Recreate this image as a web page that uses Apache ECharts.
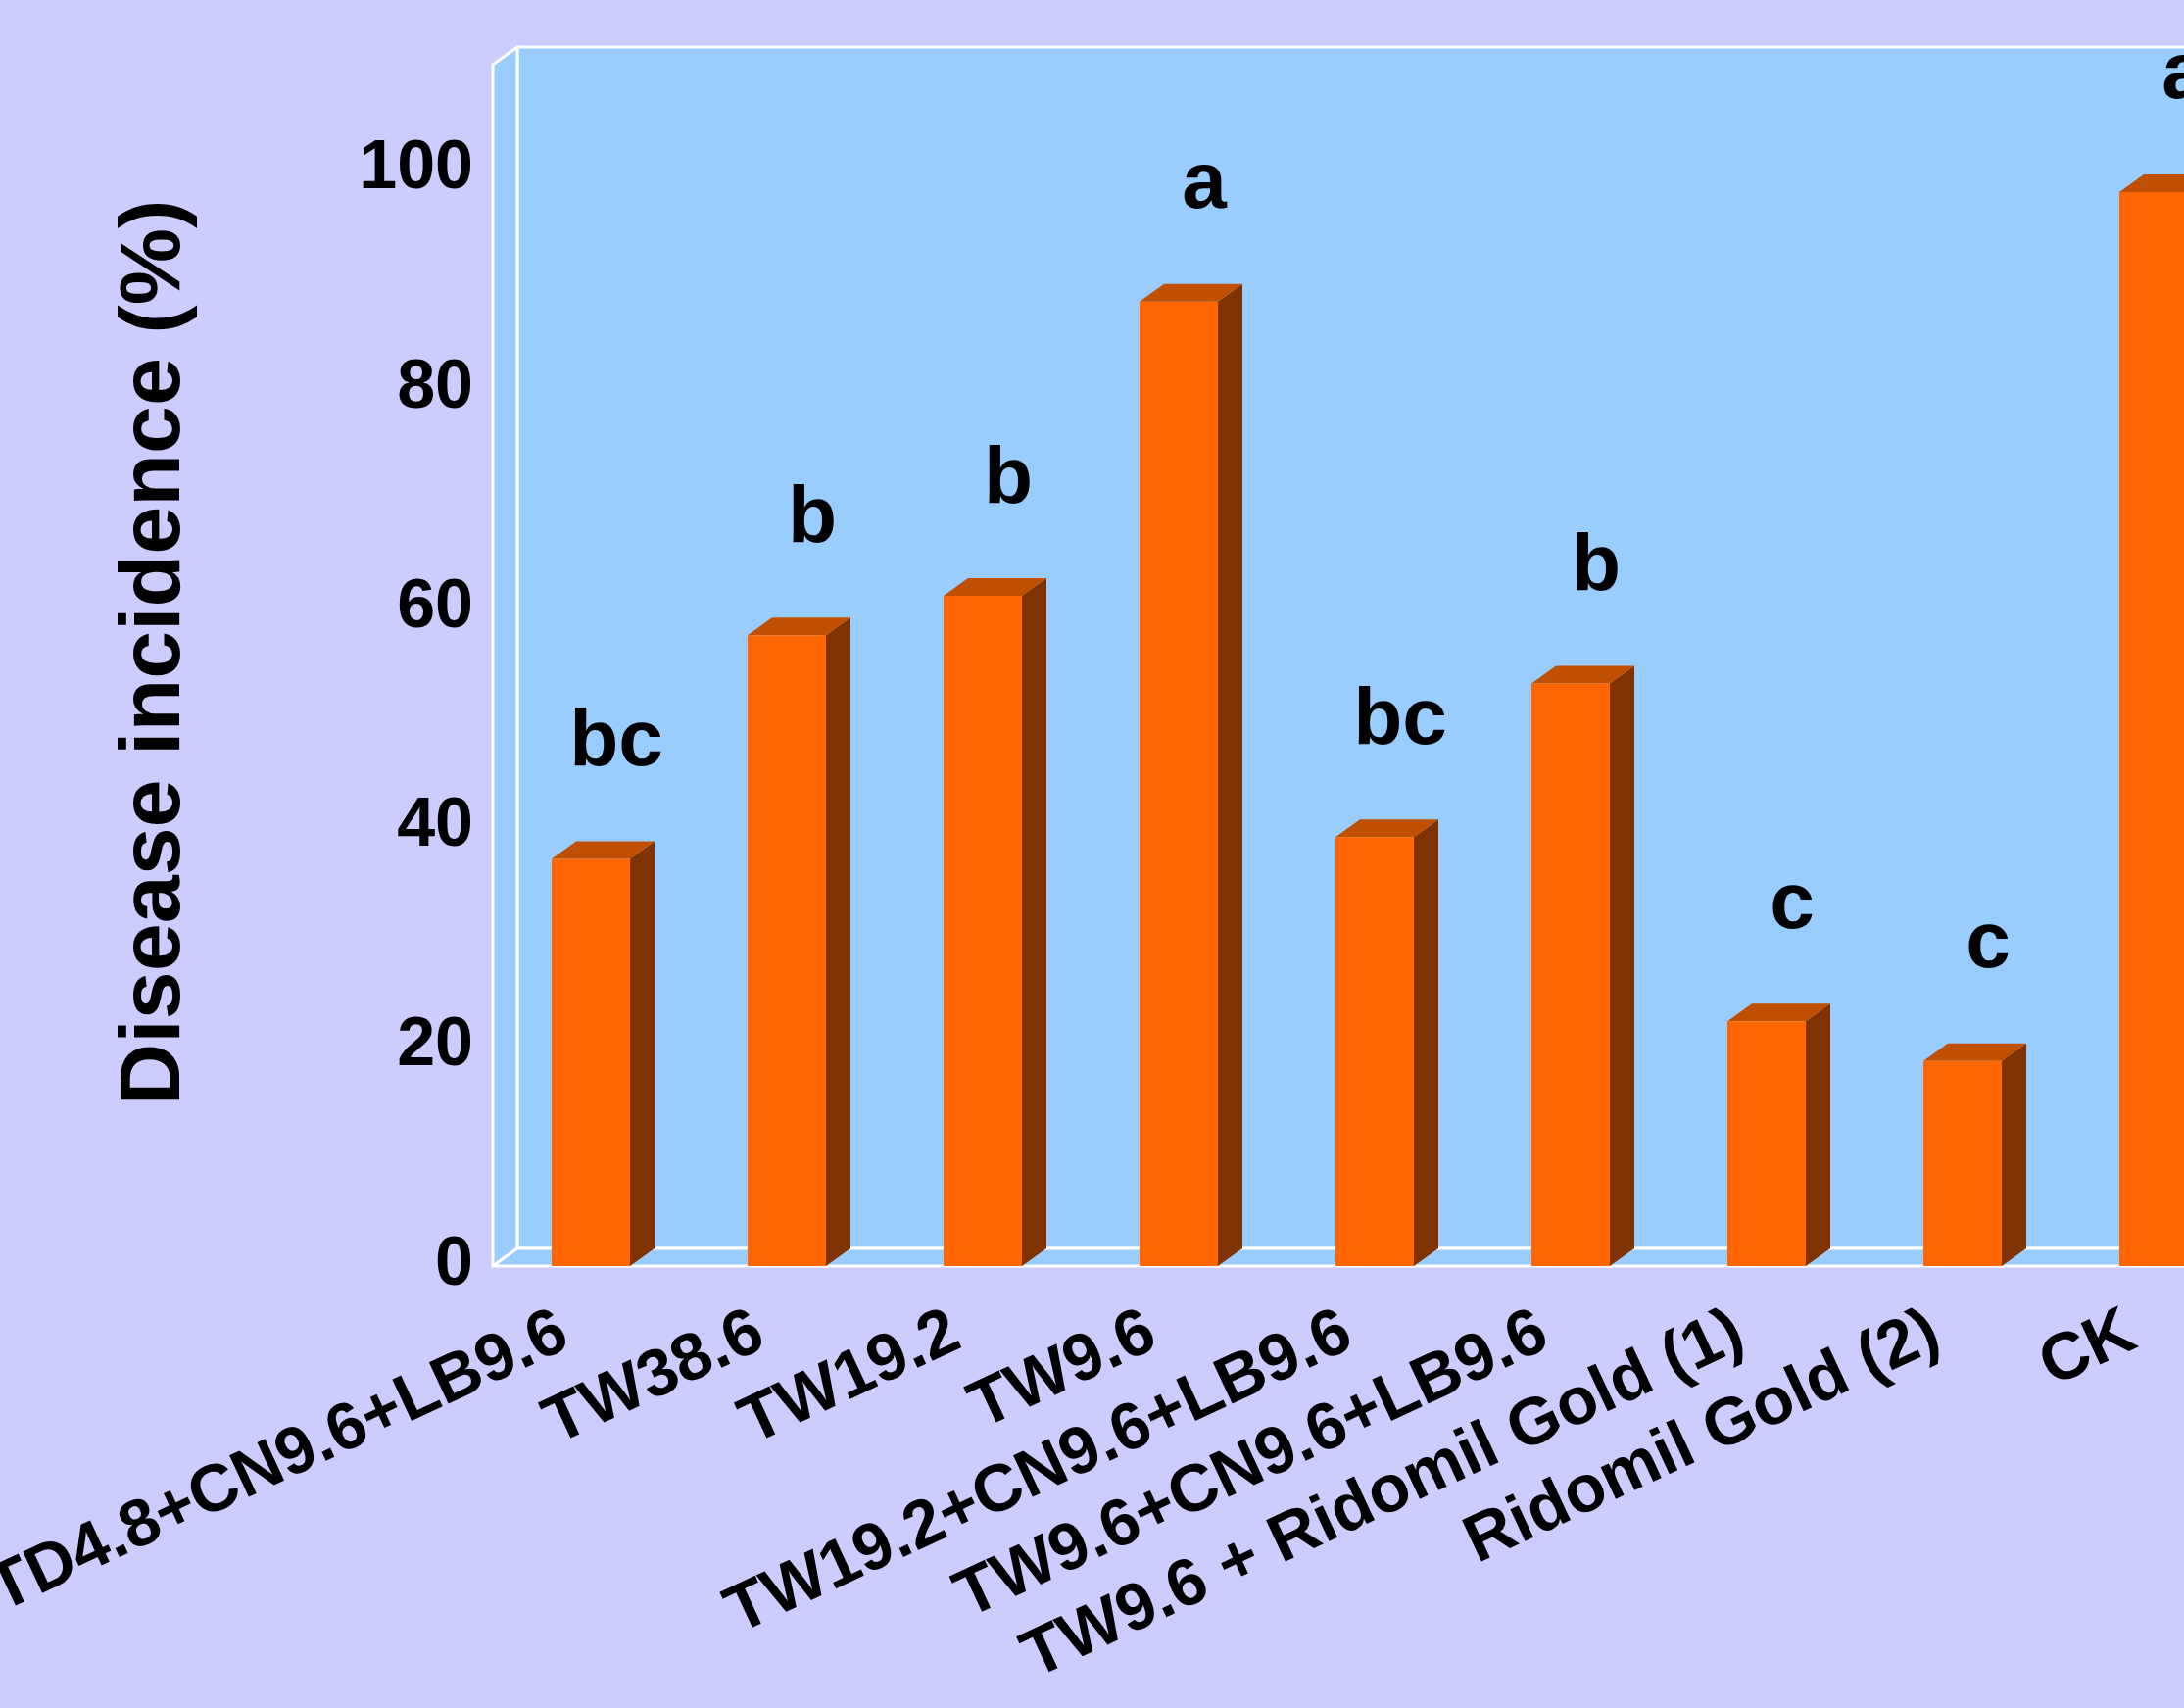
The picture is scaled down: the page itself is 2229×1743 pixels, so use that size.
<!DOCTYPE html>
<html>
<head>
<meta charset="utf-8">
<script src="https://cdn.jsdelivr.net/npm/echarts@6/dist/echarts.min.js"></script>
<style>
  html, body { margin: 0; padding: 0; background: #CCCCFF; }
  #chart { width: 2229px; height: 1743px; }
</style>
</head>
<body>
<div id="chart"></div>
<script>
// Treatments along the category axis
const categories = [
  'TD4.8+CN9.6+LB9.6',
  'TW38.6',
  'TW19.2',
  'TW9.6',
  'TW19.2+CN9.6+LB9.6',
  'TW9.6+CN9.6+LB9.6',
  'TW9.6 + Ridomil Gold (1)',
  'Ridomil Gold (2)',
  'CK'
];

// Disease incidence (%) per treatment
const incidence = [37.1, 57.5, 61.1, 87.9, 39.1, 53.1, 22.3, 18.7, 97.9];

// Significance groups printed above each column
const groupLetters = ['bc', 'b', 'b', 'a', 'bc', 'b', 'c', 'c', 'a'];

// Value axis range and tick step
const yMin = 0;
const yMax = 109.5;
const yStep = 20;
const yLabelLimit = 100;

// 3D depth offset for walls and columns
const DX = 25;
const DY = -18;

const FONT = '"Liberation Sans", Arial, sans-serif';
const WALL = '#99CCFF';
const EDGE = '#FFFFFF';

function renderFrame(params, api) {
  const cs = params.coordSys;
  const x = cs.x, y = cs.y, w = cs.width, h = cs.height;
  const edge = { stroke: EDGE, lineWidth: 3, lineJoin: 'round' };
  return {
    type: 'group',
    children: [
      { // back wall
        type: 'rect',
        shape: { x: x + DX, y: y + DY, width: w, height: h },
        style: Object.assign({ fill: WALL }, edge)
      },
      { // side wall
        type: 'polygon',
        shape: { points: [[x, y], [x + DX, y + DY], [x + DX, y + h + DY], [x, y + h]] },
        style: Object.assign({ fill: WALL }, edge)
      },
      { // floor
        type: 'polygon',
        shape: { points: [[x, y + h], [x + DX, y + h + DY], [x + w + DX, y + h + DY], [x + w, y + h]] },
        style: Object.assign({ fill: WALL }, edge)
      }
    ]
  };
}

function renderColumn(params, api) {
  const idx = api.value(0);
  const top = api.coord([idx, api.value(1)]);
  const base = api.coord([idx, 0]);
  const bw = api.size([1, 0])[0] * 0.4;
  const x0 = top[0] - bw / 2;
  const x1 = top[0] + bw / 2;
  const yT = top[1];
  const yB = base[1];
  return {
    type: 'group',
    children: [
      { // right side face
        type: 'polygon',
        shape: { points: [[x1, yT], [x1 + DX, yT + DY], [x1 + DX, yB + DY], [x1, yB]] },
        style: { fill: '#803300' }
      },
      { // top face
        type: 'polygon',
        shape: { points: [[x0, yT], [x0 + DX, yT + DY], [x1 + DX, yT + DY], [x1, yT]] },
        style: { fill: '#C05000' }
      },
      { // front face
        type: 'rect',
        shape: { x: x0, y: yT, width: bw, height: yB - yT },
        style: { fill: '#FF6600' }
      },
      { // group letter
        type: 'text',
        style: {
          text: groupLetters[params.dataIndex],
          x: top[0] + 26,
          y: yT - 118,
          align: 'center',
          verticalAlign: 'middle',
          font: 'bold 82px ' + FONT,
          fill: '#000000'
        }
      }
    ]
  };
}

const chart = echarts.init(document.getElementById('chart'), null, { renderer: 'canvas' });

chart.setOption({
  backgroundColor: '#CCCCFF',
  animation: false,
  grid: {
    left: 503, top: 66, width: 1800, height: 1226,
    containLabel: false,
    outerBoundsMode: 'none'
  },
  xAxis: {
    type: 'category',
    data: categories,
    axisLine: { show: false },
    axisTick: { show: false },
    splitLine: { show: false },
    axisLabel: {
      interval: 0,
      rotate: 25,
      margin: 52,
      padding: [0, 30, 0, 0],
      color: '#000000',
      fontFamily: FONT,
      fontWeight: 'bold',
      fontSize: 68
    }
  },
  yAxis: {
    type: 'value',
    min: yMin,
    max: yMax,
    interval: yStep,
    name: 'Disease incidence (%)',
    nameLocation: 'middle',
    nameGap: 300,
    nameTextStyle: {
      color: '#000000',
      fontFamily: FONT,
      fontWeight: 'bold',
      fontSize: 88,
      padding: [0, 0, 0, 26]
    },
    axisLine: { show: false },
    axisTick: { show: false },
    splitLine: { show: false },
    axisLabel: {
      margin: 20,
      color: '#000000',
      fontFamily: FONT,
      fontWeight: 'bold',
      fontSize: 70,
      formatter: v => (v <= yLabelLimit ? String(v) : '')
    }
  },
  series: [
    {
      type: 'custom',
      name: 'frame',
      z: 1,
      silent: true,
      renderItem: renderFrame,
      data: [[0, 0]],
      encode: { x: 0, y: 1 }
    },
    {
      type: 'custom',
      name: 'Disease incidence',
      z: 2,
      renderItem: renderColumn,
      data: categories.map((c, i) => [i, incidence[i]]),
      encode: { x: 0, y: 1 }
    }
  ]
});
</script>
</body>
</html>
